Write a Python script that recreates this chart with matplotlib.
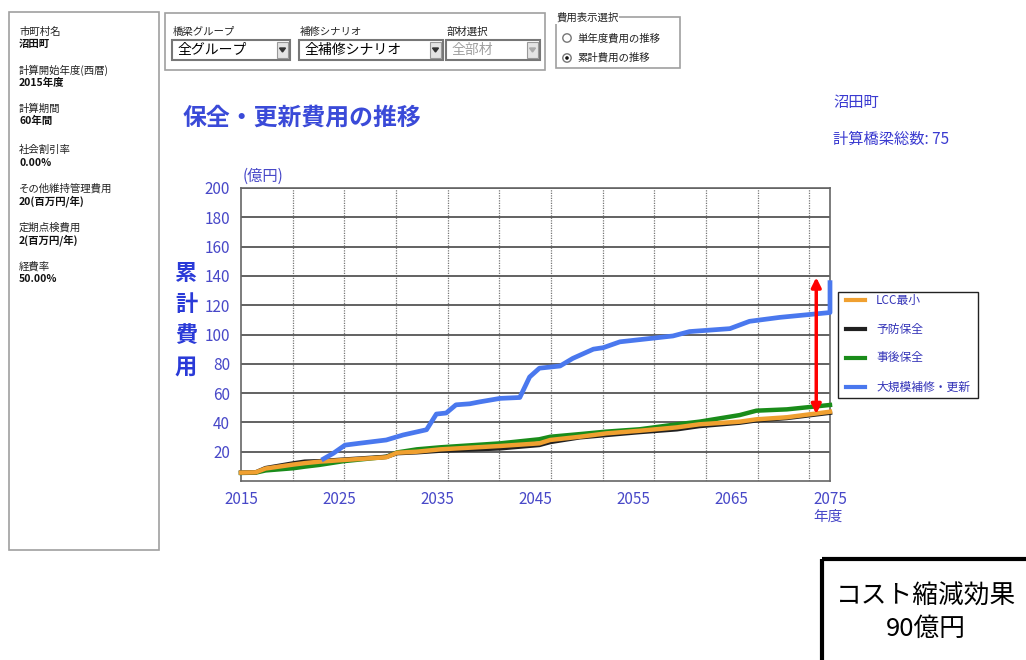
import matplotlib.pyplot as plt
import numpy as np
from matplotlib.patches import Rectangle, Circle

plt.rcParams["font.family"] = ["Noto Sans CJK JP", "DejaVu Sans"]

# data (億円, cumulative)
series_names = ["LCC最小", "予防保全", "事後保全", "大規模補修・更新"]
series_colors = ["#f0a030", "#202020", "#1a8c1a", "#4a78ee"]

years_low = [2015, 2016.5, 2017.5, 2020.3, 2021.5, 2023, 2025.4, 2029.8, 2030.9, 2032.9,
             2035.3, 2041.4, 2045.4, 2046.5, 2049.5, 2052.2, 2055.6, 2059.4, 2061.7,
             2065.8, 2067.5, 2070.6, 2075]
lcc_min = [5.7, 5.9, 8.5, 11.2, 12.2, 13.2, 14.3, 16.2, 19.3, 20.0, 21.6, 23.9, 25.7, 28.0,
           30.2, 32.5, 34.3, 36.6, 38.7, 40.5, 42.1, 43.5, 47.3]
preventive = [5.7, 5.9, 8.8, 12.0, 13.2, 13.5, 14.6, 16.5, 19.0, 19.6, 20.7, 22.3, 24.6,
              26.6, 29.8, 31.4, 33.4, 35.3, 37.5, 39.8, 41.4, 43.0, 46.6]
corrective = [5.5, 5.7, 7.2, 8.7, 9.8, 11.0, 13.5, 16.5, 19.5, 21.6, 23.0, 25.7, 28.5,
              30.2, 32.0, 33.7, 35.3, 38.7, 40.5, 45.0, 48.0, 48.9, 51.9]

years_big = [2023.2, 2024.4, 2025.6, 2027.0, 2029.8, 2031.5, 2033.9, 2034.9, 2035.9, 2036.9,
             2038.3, 2039.3, 2041.4, 2043.4, 2044.4, 2045.4, 2047.5, 2048.8, 2050.9, 2051.9,
             2053.6, 2056.3, 2059.0, 2060.7, 2064.8, 2066.8, 2069.9, 2075.0, 2075.0]
large_renewal = [14.3, 18.9, 24.5, 25.7, 28.0, 31.4, 35.0, 45.7, 46.4, 52.0, 52.7, 54.0,
                 56.4, 57.0, 71.0, 77.0, 78.5, 83.7, 90.0, 91.0, 95.0, 97.0, 99.0, 102.0,
                 104.0, 109.0, 111.7, 115.0, 137.0]

x_ticks = [2015, 2025, 2035, 2045, 2055, 2065, 2075]
y_ticks = [20, 40, 60, 80, 100, 120, 140, 160, 180, 200]

left_labels = ["市町村名", "計算開始年度(西暦)", "計算期間", "社会割引率",
               "その他維持管理費用", "定期点検費用", "経費率"]
left_values = ["沼田町", "2015年度", "60年間", "0.00%", "20(百万円/年)",
               "2(百万円/年)", "50.00%"]

arrow_year = 2073.6
arrow_range = (45.7, 139.0)

W, H = 1026, 660
TXT_BLUE = "#3a3ad0"

fig = plt.figure(figsize=(W / 100, H / 100), dpi=100)
ax = fig.add_axes([241 / W, 1 - 481 / H, (830 - 241) / W, (481 - 188) / H])

series = [lcc_min, preventive, corrective]
for i in [2, 1, 0]:
    ax.plot(years_low, series[i], color=series_colors[i], lw=3.2, zorder=3 + (2 - i),
            clip_on=False)
ax.plot(years_big, large_renewal, color=series_colors[3], lw=3.4, zorder=6,
        solid_capstyle="butt", clip_on=False)

ax.set_xlim(2015, 2075)
ax.set_ylim(0, 200)
ax.set_yticks(y_ticks)
ax.set_xticks(x_ticks)
ax.set_xticks(np.arange(2020.27, 2075, 5.263), minor=True)
ax.grid(axis="y", color="#555555", lw=1.3, zorder=1)
ax.grid(axis="x", which="minor", color="#777777", lw=0.9, ls=(0, (1, 1)), zorder=1)
ax.tick_params(axis="both", which="both", length=0, labelsize=11, labelcolor="#4848c8")
ax.tick_params(axis="y", pad=8)
ax.tick_params(axis="x", pad=7)
for s in ax.spines.values():
    s.set_color("#666666")
    s.set_linewidth(1.2)

ax.annotate("", xy=(arrow_year, arrow_range[1]), xytext=(arrow_year, arrow_range[0]),
            arrowprops=dict(arrowstyle="<|-|>", color="red", lw=2.5,
                            mutation_scale=14, shrinkA=0, shrinkB=0), zorder=7)

# overlay for page elements, in pixel coordinates
ov = fig.add_axes([0, 0, 1, 1], zorder=10)
ov.set_xlim(0, W)
ov.set_ylim(H, 0)
ov.axis("off")
ov.patch.set_alpha(0)

# left parameter panel
ov.add_patch(Rectangle((8.5, 12), 150, 538, fill=False, ec="#a0a0a0", lw=1.2))
ys = [31.7, 70.7, 108.3, 150, 188.3, 227.7, 266.7]
for lab, val, y in zip(left_labels, left_values, ys):
    ov.text(19, y, lab, fontsize=7.5, va="center", color="#222222")
    ov.text(19, y + 12.5, val, fontsize=7.5, va="center", fontweight="bold", color="#111111")

# top selectors
ov.add_patch(Rectangle((165, 13), 380, 57, fill=False, ec="#a0a0a0", lw=1.2))
combos = [("橋梁グループ", "全グループ", 172, 290, "#000000"),
          ("補修シナリオ", "全補修シナリオ", 299, 443, "#000000"),
          ("部材選択", "全部材", 446, 540, "#a0a0a0")]
for lab, val, x0, x1, c in combos:
    ov.text(x0 + 1, 32, lab, fontsize=7.5, va="center", color="#222222")
    ov.add_patch(Rectangle((x0, 40), x1 - x0, 20, fc="white", ec="#777777", lw=1.5))
    ov.add_patch(Rectangle((x1 - 13, 42), 11, 16, fc="#e4e4e4", ec="#999999", lw=0.8))
    ov.fill([x1 - 10.5, x1 - 4.5, x1 - 7.5], [48, 48, 52],
            color="#333333" if c == "#000000" else "#aaaaaa")
    ov.text(x0 + 6, 50, val, fontsize=10, va="center", color=c)

# radio group
ov.add_patch(Rectangle((556, 17), 124, 51, fill=False, ec="#a0a0a0", lw=1.2))
ov.text(556, 18, "費用表示選択", fontsize=7.5, va="center", color="#222222",
        bbox=dict(fc="white", ec="none", pad=0.5))
for y, label, sel in [(38, "単年度費用の推移", False), (58, "累計費用の推移", True)]:
    ov.add_patch(Circle((567, y), 4.2, fc="white", ec="#777777", lw=1))
    if sel:
        ov.add_patch(Circle((567, y), 1.8, fc="#111111", ec="none"))
    ov.text(577, y, label, fontsize=7.5, va="center", color="#222222")

# titles and notes
ov.text(183, 118, "保全・更新費用の推移", fontsize=17.2, fontweight="bold",
        va="center", color="#3a4ad8")
ov.text(833, 102, "沼田町", fontsize=11, va="center", color=TXT_BLUE)
ov.text(833, 139, "計算橋梁総数: 75", fontsize=11, va="center", color=TXT_BLUE)
ov.text(243, 176, "(億円)", fontsize=11, va="center", color="#4848c8")
for k, ch in enumerate("累計費用"):
    ov.text(186, 273 + k * 31.5, ch, fontsize=16, fontweight="bold", ha="center",
            va="center", color="#2a3ad8")
ov.text(828, 517, "年度", fontsize=10.5, ha="center", va="center", color="#4848c8")

# legend
ov.add_patch(Rectangle((838, 292), 140, 106, fc="white", ec="#222222", lw=1))
for k, (name, col) in enumerate(zip(series_names, series_colors)):
    y = 300 + k * 29
    ov.plot([846, 865], [y, y], color=col, lw=3)
    ov.text(876, y, name, fontsize=8.5, va="center", color="#3535b8")

# cost reduction box
ov.add_patch(Rectangle((821.5, 558.5), 210, 110, fill=False, ec="black", lw=3))
ov.text(926, 597, "コスト縮減効果", fontsize=18.5, ha="center", va="center", color="black")
ov.text(926, 629, "90億円", fontsize=18.5, ha="center", va="center", color="black")

fig.savefig("out.png", dpi=100)
